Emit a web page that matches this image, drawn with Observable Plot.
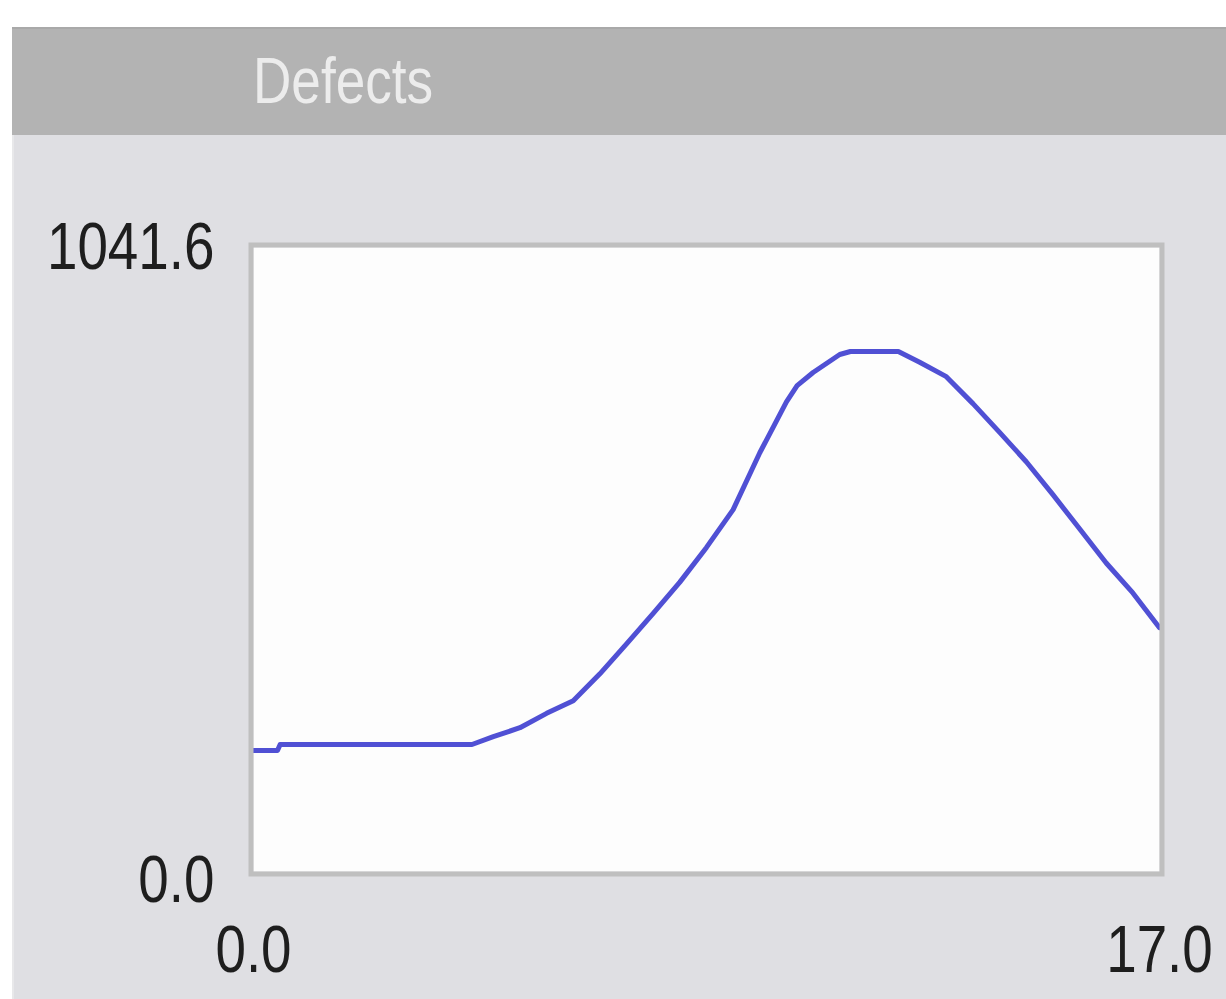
<!DOCTYPE html>
<html>
<head>
<meta charset="utf-8">
<script src="https://cdn.jsdelivr.net/npm/d3@7"></script>
<script src="https://cdn.jsdelivr.net/npm/@observablehq/plot@0.6"></script>
<style>
  html, body { margin: 0; padding: 0; background: #ffffff; }
  #page { position: relative; width: 1226px; height: 999px; overflow: hidden; background: #ffffff; }
  #panel { position: absolute; left: 12px; top: 28px; width: 1214px; height: 971px; background: #dfdfe3; border-left: 2px solid #e8e8ea; box-sizing: border-box; }
  #header { position: absolute; left: 12px; top: 27px; width: 1214px; height: 108px; background: #b3b3b3; border-top: 2px solid #a9a9a9; box-sizing: border-box; }
  #title { position: absolute; left: 253px; top: 49px; font-family: "Liberation Sans", Arial, sans-serif; font-size: 64px; line-height: 64px; color: #ececec; white-space: nowrap; transform: scaleX(0.83); transform-origin: left center; }
  #chart { position: absolute; left: 0; top: 135px; }
  #chart svg { background: transparent; }
</style>
</head>
<body>
<div id="page">
  <div id="panel"></div>
  <div id="header"></div>
  <div id="title">Defects</div>
  <div id="chart"></div>
</div>
<script>
// Data
const time = [0, 0.45, 0.5, 4.1, 4.5, 5, 5.5, 6, 6.5, 7, 7.5, 8, 8.5, 9, 9.5, 10, 10.2, 10.5, 11, 11.2, 12.1, 12.5, 13, 13.5, 14, 14.5, 15, 15.5, 16, 16.5, 17];
const defects = [202, 202, 212, 212, 225, 240, 264, 285, 330, 380, 431, 483, 541, 604, 699, 784, 811, 833, 863, 868, 868, 850, 826, 781, 733, 684, 629, 572, 515, 465, 407];
const xDomain = [0, 17];
const yDomain = [0, 1041.6];
const xTicks = [0, 17];
const yTopTick = [1041.6];
const yBottomTick = [0];

const data = time.map((t, i) => ({t, v: defects[i]}));
const fmt = d3.format(".1f");
const font = '"Liberation Sans", Arial, sans-serif';

const chart = Plot.plot({
  width: 1226,
  height: 864,
  marginTop: 112,
  marginBottom: 128,
  marginLeft: 253,
  marginRight: 67,
  style: {fontFamily: font, fontSize: "66px", color: "#1e1e1e", background: "transparent"},
  x: {domain: xDomain, label: null},
  y: {domain: yDomain, label: null},
  marks: [
    Plot.frame({fill: "#fdfdfd", stroke: null}),
    Plot.line(data, {x: "t", y: "v", stroke: "#5050d4", strokeWidth: 5, curve: "linear"}),
    Plot.frame({stroke: "#bfbfbf", strokeWidth: 5, inset: -2.5}),
    Plot.axisY(yTopTick, {tickSize: 0, tickPadding: 39, tickFormat: fmt, fontSize: 66, fill: "#1e1e1e", label: null}),
    Plot.axisY(yBottomTick, {tickSize: 0, tickPadding: 39, tickFormat: fmt, fontSize: 66, fill: "#1e1e1e", dy: 9, label: null}),
    Plot.axisX(xTicks, {tickSize: 0, tickPadding: 54, tickFormat: fmt, fontSize: 66, fill: "#1e1e1e", label: null})
  ]
});
document.getElementById("chart").appendChild(chart);
// condense tick label glyphs (narrow face)
d3.select(chart).selectAll("text").each(function() {
  const w = this.getComputedTextLength();
  if (w > 0) {
    this.setAttribute("textLength", (w * 0.83).toFixed(1));
    this.setAttribute("lengthAdjust", "spacingAndGlyphs");
  }
});
</script>
</body>
</html>
